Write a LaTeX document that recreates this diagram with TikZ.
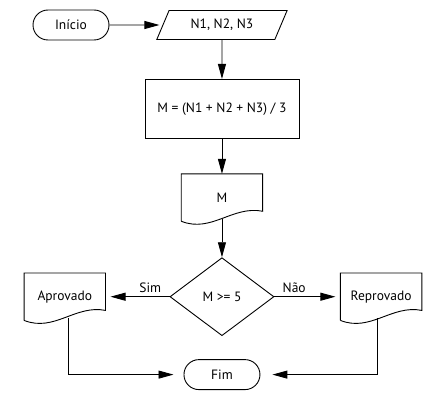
\documentclass[tikz,border=0pt]{standalone}
\usepackage{fontspec}
\setmainfont{PT Sans}
\usepackage{tikz}
\usetikzlibrary{positioning,arrows.meta,shapes.geometric,calc}
\tikzset{
  node-term/.style={draw,line width=0.9pt,rounded corners=15pt,
    minimum height=30pt,minimum width=76pt,align=center},
  node-io/.style={draw,line width=0.9pt,trapezium,trapezium stretches=true,
    trapezium left angle=58,trapezium right angle=122,
    minimum height=29pt,minimum width=131pt,inner sep=0pt},
  node-box/.style={draw,line width=0.9pt,minimum height=59pt,
    minimum width=154pt,align=center},
  node-doc/.style={minimum height=47pt,minimum width=81pt,align=center},
  node-dec/.style={draw,line width=0.9pt,diamond,aspect=1.33,inner sep=0pt,
    minimum width=104pt,minimum height=78pt},
  arrow/.style={-{Triangle[length=15pt,width=8pt]},line width=0.9pt},
}
\begin{document}
\begin{tikzpicture}[x=1pt,y=1pt,font=\fontsize{13.5}{16}\selectfont]
  \useasboundingbox (0,0) rectangle (446,-401);
  \node[node-term] (inicio) at (71,-25) {Início};
  \node[node-io,right=53pt of inicio] (entrada) {N1, N2, N3};
  \node[node-box,below=39pt of entrada] (media) {M = (N1 + N2 + N3) / 3};
  \node[node-doc,below=35pt of media] (saida) {M};
  \node[node-dec,below=36pt of saida] (teste) {M >= 5};
  \node[node-doc,left=64pt of teste] (aprovado) {Aprovado};
  \node[node-doc,right=66pt of teste] (reprovado) {Reprovado};
  \node[node-term,below=23pt of teste] (fim) {Fim};
  % contorno de documento (base ondulada)
  \foreach \n in {saida,aprovado,reprovado}
    \draw[line width=0.9pt] (\n.south west) -- (\n.north west) -- (\n.north east)
      -- ([yshift=10pt]\n.south east)
      .. controls ([xshift=-30pt,yshift=16pt]\n.south east)
      and ([xshift=30pt,yshift=-12pt]\n.south west) .. (\n.south west);
  \draw[arrow,shorten >=3pt] (inicio) -- (entrada);
  \draw[arrow] (entrada) -- (media);
  \draw[arrow] (media) -- (saida);
  \draw[arrow] ([yshift=2pt]saida.south) -- (teste);
  \draw[arrow,shorten >=5pt] (teste) -- node[above,pos=0.3]{Sim} (aprovado);
  \draw[arrow,shorten >=5pt] (teste) -- node[above,pos=0.3]{Não} (reprovado);
  \draw[arrow,shorten >=10pt] ([xshift=4pt,yshift=2pt]aprovado.south) |- (fim);
  \draw[arrow,shorten >=12pt] ([xshift=-4pt,yshift=2pt]reprovado.south) |- (fim);
\end{tikzpicture}
\end{document}
